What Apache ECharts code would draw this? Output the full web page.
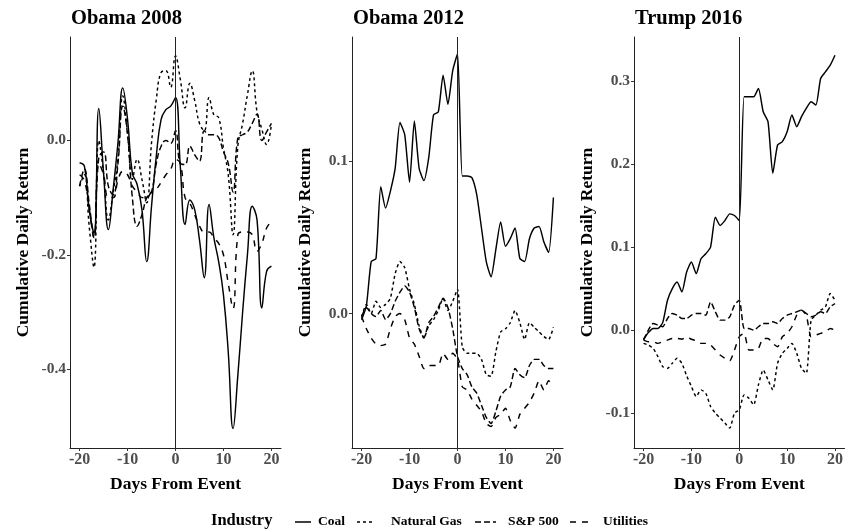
<!DOCTYPE html>
<html>
<head>
<meta charset="utf-8">
<script src="https://cdn.jsdelivr.net/npm/echarts@6/dist/echarts.min.js"></script>
<style>
html,body{margin:0;padding:0;background:#fff;}
#chart{width:846px;height:531px;}
</style>
</head>
<body>
<div id="chart"></div>
<script>
const days = [-20,-19,-18,-17,-16,-15,-14,-13,-12,-11,-10,-9,-8,-7,-6,-5,-4,-3,-2,-1,0,1,2,3,4,5,6,7,8,9,10,11,12,13,14,15,16,17,18,19,20];
const panelTitles = ['Obama 2008','Obama 2012','Trump 2016'];
const industries = ['Coal','Natural Gas','S&P 500','Utilities'];
const legendTitle = 'Industry';
const xTicks = [-20,-10,0,10,20];
const yTicks2008 = [-0.4,-0.2,0.0];
const yTicks2012 = [0.0,0.1];
const yTicks2016 = [-0.1,0.0,0.1,0.2,0.3];

// Obama 2008
const coal2008 = [-0.039,-0.045,-0.121,-0.162,0.056,-0.057,-0.156,-0.086,-0.004,0.092,0.037,-0.057,-0.077,-0.121,-0.212,-0.115,-0.027,0.037,0.054,0.060,0.075,-0.045,-0.147,-0.104,-0.121,-0.174,-0.240,-0.112,-0.170,-0.212,-0.270,-0.370,-0.504,-0.411,-0.300,-0.200,-0.115,-0.139,-0.293,-0.229,-0.220];
const gas2008 = [-0.080,-0.060,-0.150,-0.222,0.000,-0.057,-0.139,-0.090,-0.033,0.078,0.013,-0.068,-0.033,-0.068,-0.109,-0.004,0.072,0.119,0.122,0.093,0.148,0.107,0.057,0.100,0.070,0.030,0.017,0.075,0.045,0.040,-0.013,-0.060,-0.165,-0.010,0.030,0.080,0.122,0.050,0.020,-0.007,0.028];
const sp2008 = [-0.080,-0.050,-0.110,-0.170,-0.030,-0.020,-0.080,-0.095,-0.040,0.060,0.010,-0.100,-0.150,-0.130,-0.100,-0.090,-0.040,-0.010,0.000,-0.005,0.017,-0.040,-0.042,-0.010,-0.025,-0.036,0.017,0.010,0.010,0.005,-0.020,-0.040,-0.090,0.005,0.010,0.015,0.030,0.046,0.000,0.015,0.030];
const util2008 = [-0.060,-0.070,-0.120,-0.170,-0.040,-0.060,-0.100,-0.100,-0.070,-0.054,-0.060,-0.080,-0.090,-0.100,-0.100,-0.090,-0.085,-0.073,-0.060,-0.050,-0.033,-0.040,-0.100,-0.110,-0.130,-0.150,-0.160,-0.160,-0.170,-0.180,-0.200,-0.250,-0.294,-0.165,-0.160,-0.160,-0.165,-0.194,-0.180,-0.153,-0.142];

// Obama 2012
const coal2012 = [-0.004,0.005,0.034,0.036,0.083,0.069,0.080,0.095,0.125,0.117,0.086,0.126,0.095,0.087,0.102,0.130,0.132,0.156,0.137,0.159,0.170,0.090,0.090,0.089,0.078,0.056,0.034,0.024,0.042,0.060,0.044,0.049,0.056,0.036,0.034,0.049,0.056,0.057,0.047,0.040,0.076];
const gas2012 = [-0.002,0.006,0.000,0.008,0.004,0.006,0.010,0.026,0.034,0.030,0.016,0.006,-0.008,-0.016,-0.008,-0.004,0.002,0.010,0.002,0.008,0.016,-0.022,-0.026,-0.026,-0.026,-0.030,-0.040,-0.041,-0.025,-0.012,-0.010,-0.006,0.002,-0.006,-0.017,-0.006,-0.009,-0.012,-0.015,-0.017,-0.009];
const sp2012 = [-0.002,0.004,0.000,-0.002,0.002,-0.004,0.000,0.008,0.014,0.018,0.014,0.004,-0.010,-0.016,-0.006,-0.002,0.004,0.010,0.004,-0.010,-0.028,-0.036,-0.040,-0.048,-0.052,-0.060,-0.068,-0.072,-0.064,-0.054,-0.050,-0.048,-0.036,-0.040,-0.042,-0.034,-0.030,-0.030,-0.034,-0.036,-0.036];
const util2012 = [-0.002,-0.010,-0.016,-0.020,-0.021,-0.020,-0.010,-0.002,0.000,-0.004,-0.016,-0.020,-0.028,-0.036,-0.034,-0.034,-0.034,-0.026,-0.030,-0.026,-0.030,-0.048,-0.050,-0.056,-0.060,-0.064,-0.072,-0.074,-0.068,-0.066,-0.062,-0.070,-0.075,-0.066,-0.062,-0.058,-0.052,-0.044,-0.050,-0.044,-0.048];

// Trump 2016
const coal2016 = [-0.011,-0.003,0.002,0.002,0.009,0.036,0.050,0.058,0.046,0.070,0.082,0.068,0.086,0.092,0.100,0.136,0.126,0.132,0.140,0.138,0.132,0.281,0.281,0.281,0.291,0.263,0.251,0.189,0.223,0.227,0.239,0.259,0.245,0.257,0.267,0.275,0.271,0.303,0.311,0.319,0.331];
const gas2016 = [-0.016,-0.018,-0.022,-0.032,-0.044,-0.046,-0.040,-0.034,-0.040,-0.055,-0.068,-0.080,-0.072,-0.076,-0.092,-0.100,-0.106,-0.112,-0.118,-0.100,-0.096,-0.078,-0.082,-0.090,-0.066,-0.048,-0.060,-0.072,-0.040,-0.028,-0.022,-0.016,-0.028,-0.046,-0.052,0.012,0.018,0.024,0.028,0.044,0.036];
const sp2016 = [-0.012,0.000,0.008,0.006,0.004,0.014,0.020,0.018,0.014,0.014,0.018,0.020,0.020,0.018,0.034,0.022,0.012,0.012,0.016,0.030,0.036,0.002,0.002,0.000,0.004,0.008,0.008,0.010,0.008,0.014,0.018,0.020,0.022,0.024,0.020,0.016,0.018,0.022,0.020,0.028,0.032];
const util2016 = [-0.012,-0.014,-0.014,-0.016,-0.014,-0.012,-0.010,-0.010,-0.011,-0.008,-0.011,-0.013,-0.016,-0.016,-0.018,-0.024,-0.030,-0.034,-0.037,-0.024,-0.008,-0.004,-0.024,-0.024,-0.022,-0.010,-0.010,-0.016,-0.020,-0.008,-0.004,0.004,0.018,0.024,0.018,-0.008,-0.006,-0.004,-0.002,0.002,0.000];

const panelData = [
  [coal2008, gas2008, sp2008, util2008],
  [coal2012, gas2012, sp2012, util2012],
  [coal2016, gas2016, sp2016, util2016]
];
const yTickSets = [yTicks2008, yTicks2012, yTicks2016];
const yRanges = [[-0.538,0.181],[-0.088,0.181],[-0.142,0.353]];
const gridLefts = [70, 352, 634];
const dashes = ['solid',[3,3],[6,3],[6,6]];

const FONT = '"Liberation Serif","Times New Roman",serif';
const grids = [], xAxes = [], yAxes = [], series = [], titles = [];
for (let p = 0; p < 3; p++) {
  grids.push({left: gridLefts[p], top: 37, width: 211, height: 411, containLabel: false});
  titles.push({text: panelTitles[p], left: gridLefts[p] - 4, top: 3,
    textStyle: {fontFamily: FONT, fontWeight: 'bold', fontSize: 20.5, color: '#000'}});
  xAxes.push({
    type: 'value', gridIndex: p, min: -22, max: 22,
    name: 'Days From Event', nameLocation: 'middle', nameGap: 27,
    nameTextStyle: {fontFamily: FONT, fontWeight: 'bold', fontSize: 17.5, color: '#000'},
    axisLine: {show: true, onZero: false, lineStyle: {color: '#222', width: 1}},
    axisTick: {show: true, length: 3, customValues: xTicks, lineStyle: {color: '#333'}},
    axisLabel: {customValues: xTicks, fontFamily: FONT, fontWeight: 'bold', fontSize: 16, color: '#4d4d4d', margin: 4},
    splitLine: {show: false}
  });
  yAxes.push({
    type: 'value', gridIndex: p, min: yRanges[p][0], max: yRanges[p][1],
    name: 'Cumulative Daily Return', nameLocation: 'middle', nameGap: 38, nameRotate: 90,
    nameTextStyle: {fontFamily: FONT, fontWeight: 'bold', fontSize: 17.5, color: '#000'},
    axisLine: {show: true, onZero: false, lineStyle: {color: '#222', width: 1}},
    axisTick: {show: true, length: 3, customValues: yTickSets[p], lineStyle: {color: '#333'}},
    axisLabel: {customValues: yTickSets[p], fontFamily: FONT, fontWeight: 'bold', fontSize: 15.5, color: '#4d4d4d', margin: 4,
      formatter: v => Number(v).toFixed(1)},
    splitLine: {show: false}
  });
  for (let s = 0; s < 4; s++) {
    const ser = {
      type: 'line', name: industries[s], xAxisIndex: p, yAxisIndex: p,
      data: days.map((d, i) => [d, panelData[p][s][i]]),
      showSymbol: false, symbol: 'none', smooth: p === 0 ? 0.45 : 0.2,
      lineStyle: {color: '#000', width: 1.45, type: dashes[s]},
      itemStyle: {color: '#000'},
      animation: false, z: 3
    };
    if (s === 0) {
      ser.markLine = {silent: true, symbol: 'none', label: {show: false},
        lineStyle: {color: '#222', width: 1, type: 'solid'},
        data: [{xAxis: 0}], animation: false};
    }
    series.push(ser);
  }
}

// legend (drawn as graphic keys + text)
const legendY = 522;
const keyX = [[295, 311], [357, 375], [475, 496], [570, 594]];
const labelX = [318, 391, 508, 603];
const graphics = [{
  type: 'text', left: 211, top: legendY - 10,
  style: {text: legendTitle, font: 'bold 16.5px ' + FONT, fill: '#000'}
}];
for (let s = 0; s < 4; s++) {
  graphics.push({
    type: 'line', shape: {x1: keyX[s][0], y1: legendY, x2: keyX[s][1], y2: legendY},
    style: {stroke: '#000', lineWidth: 1.5, lineDash: s === 0 ? null : dashes[s]}
  });
  graphics.push({
    type: 'text', left: labelX[s], top: legendY - 7,
    style: {text: industries[s], font: 'bold 13.5px ' + FONT, fill: '#000'}
  });
}

const chart = echarts.init(document.getElementById('chart'), null, {renderer: 'canvas'});
chart.setOption({
  animation: false,
  backgroundColor: '#fff',
  title: titles,
  grid: grids,
  xAxis: xAxes,
  yAxis: yAxes,
  legend: {show: false},
  graphic: graphics,
  series: series
});
</script>
</body>
</html>
